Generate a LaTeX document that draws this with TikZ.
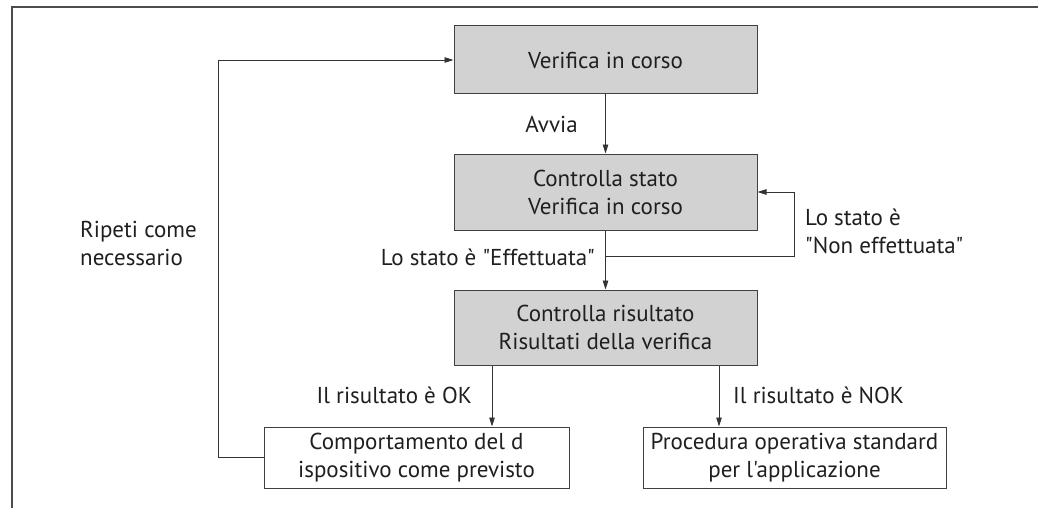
\documentclass[tikz,border=0pt]{standalone}
\usepackage{fontspec}
\setmainfont{PT Sans}[Ligatures=TeXOff]
\usetikzlibrary{arrows.meta}

\begin{document}
\begin{tikzpicture}[x=1pt,y=-1pt,
  every node/.style={font=\fontsize{23}{28}\selectfont, text=black!88},
  grau/.style={draw=black!75, fill=gray!35, line width=1pt, minimum width=303pt, align=center, inner sep=0pt},
  weiss/.style={draw=black!75, fill=white, line width=1pt, minimum height=61pt, align=center, inner sep=0pt},
  lbl/.style={inner sep=0pt, align=left},
  pfeil/.style={draw=black!80, line width=0.9pt, -{Triangle[length=9pt,width=5.5pt]}}]
  \useasboundingbox (0,0) rectangle (1038,508);
  \draw[black!70, line width=2pt] (12,508) -- (12,7) -- (1038,7);
  \node[grau, minimum height=68pt] (verif) at (605.5,60) {Verifica in corso};
  \node[grau, minimum height=76pt] (stato) at (605.5,192) {Controlla stato\\Verifica in corso};
  \node[grau, minimum height=75pt] (risult) at (605.5,327.5) {Controlla risultato\\Risultati della verifica};
  \node[weiss, minimum width=305pt] (comport) at (416.5,457.5) {Comportamento del d\\ispositivo come previsto};
  \node[weiss, minimum width=303pt] (proced) at (794.5,457.5) {Procedura operativa standard\\per l'applicazione};
  \node[lbl, anchor=base east] (avvia) at (578,132) {Avvia};
  \node[lbl, anchor=base east] (eff) at (595,265) {Lo stato è "Effettuata"};
  \node[lbl, anchor=west] (noneff) at (805,231) {Lo stato è\\"Non effettuata"};
  \node[lbl, anchor=west] (ripeti) at (80,243) {Ripeti come\\necessario};
  \node[lbl, anchor=base east] (ok) at (472,403) {Il risultato è OK};
  \node[lbl, anchor=base west] (nok) at (733,403) {Il risultato è NOK};
  \draw[pfeil] (verif) -- (stato); \draw[pfeil] (stato) -- (risult);
  \coordinate (abzw) at ([yshift=-26pt]stato.south);
  \draw[pfeil] (abzw) -- ++(189,0) |- (stato.east);
  \draw[pfeil] ([xshift=-113.5pt]risult.south) coordinate (okA) -- (okA |- comport.north);
  \draw[pfeil] ([xshift=113.5pt]risult.south) coordinate (nokA) -- (nokA |- proced.north);
  \draw[pfeil] (comport.west) -- ++(-45,0) |- (verif.west);
\end{tikzpicture}
\end{document}
